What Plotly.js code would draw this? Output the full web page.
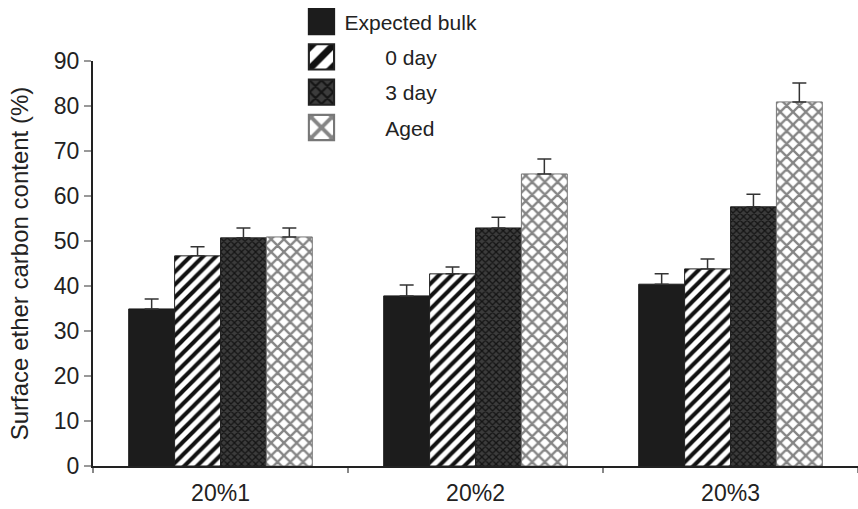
<!DOCTYPE html>
<html>
<head>
<meta charset="utf-8">
<script src="https://cdn.plot.ly/plotly-3.0.1.min.js"></script>
<style>html,body{margin:0;padding:0;background:#fff;}#chart{width:858px;height:509px;}</style>
</head>
<body>
<div id="chart"></div>
<script>
const categories = ["20%1", "20%2", "20%3"];
const seriesNames = ["Expected bulk", "0 day", "3 day", "Aged"];
const expectedBulk = [34.9, 37.8, 40.4];
const expectedBulkErr = [2.2, 2.4, 2.3];
const day0 = [46.7, 42.7, 43.8];
const day0Err = [2.0, 1.5, 2.2];
const day3 = [50.7, 52.9, 57.6];
const day3Err = [2.2, 2.4, 2.8];
const aged = [50.9, 64.9, 80.9];
const agedErr = [2.0, 3.3, 4.2];
const yTicks = [0, 10, 20, 30, 40, 50, 60, 70, 80, 90];

const pad = "\u00a0".repeat(7);
const styles = [
  {color: "#1c1c1c", line: "#1c1c1c", pattern: {shape: ""}, label: seriesNames[0]},
  {color: "#ffffff", line: "#222", pattern: {shape: "/", fgcolor: "#111", bgcolor: "#ffffff", size: 9, solidity: 0.45}, label: pad + seriesNames[1]},
  {color: "#2e2e2e", line: "#222", pattern: {shape: "x", fgcolor: "#141414", bgcolor: "#3c3c3c", size: 5, solidity: 0.45}, label: pad + seriesNames[2]},
  {color: "#ffffff", line: "#777", pattern: {shape: "x", fgcolor: "#858585", bgcolor: "#ffffff", size: 9, solidity: 0.45}, label: pad + seriesNames[3]}
];
const vals = [expectedBulk, day0, day3, aged];
const errs = [expectedBulkErr, day0Err, day3Err, agedErr];

const traces = vals.map((v, i) => ({
  type: "bar",
  x: categories,
  y: v,
  name: styles[i].label,
  legendgroup: "g" + i,
  marker: {color: styles[i].color, line: {color: styles[i].line, width: 1}, pattern: styles[i].pattern},
  error_y: {type: "data", array: errs[i], arrayminus: errs[i].map(() => 0), symmetric: false, color: "#333", thickness: 1.5, width: 7}
}));

const layout = {
  width: 858, height: 509,
  margin: {l: 93, r: 0, t: 61, b: 43},
  paper_bgcolor: "#fff", plot_bgcolor: "#fff",
  font: {family: "Liberation Sans, Arial, sans-serif", size: 21, color: "#222"},
  barmode: "group", bargap: 0.28, bargroupgap: 0,
  showlegend: true,
  legend: {x: 0.2686, y: 1.147, xanchor: "left", yanchor: "top", bgcolor: "rgba(0,0,0,0)",
           font: {size: 21, color: "#222"}, traceorder: "grouped", tracegroupgap: 5, itemwidth: 36},
  xaxis: {range: [-0.5, 2.5], showline: true, linecolor: "#222", linewidth: 2, ticks: "outside", tickson: "boundaries",
          ticklen: 5, tickcolor: "#888", tickwidth: 2, showgrid: false, zeroline: false, tickfont: {size: 23}, ticklabelstandoff: 5},
  yaxis: {range: [0, 90], tickvals: yTicks, ticktext: yTicks.map(String), showline: true, linecolor: "#222", linewidth: 2,
          ticks: "outside", ticklen: 7, tickcolor: "#999", tickwidth: 2, showgrid: false, zeroline: false, tickfont: {size: 23},
          title: {text: "Surface ether carbon content (%)", font: {size: 24}, standoff: 18}}
};

Plotly.newPlot("chart", traces, layout, {displayModeBar: false, staticPlot: true}).then(gd => {
  gd.querySelectorAll(".legend .legendpoints path").forEach(p => {
    const t = p.getAttribute("transform") || "";
    p.setAttribute("transform", t + " scale(2.1)");
  });
});
</script>
</body>
</html>
